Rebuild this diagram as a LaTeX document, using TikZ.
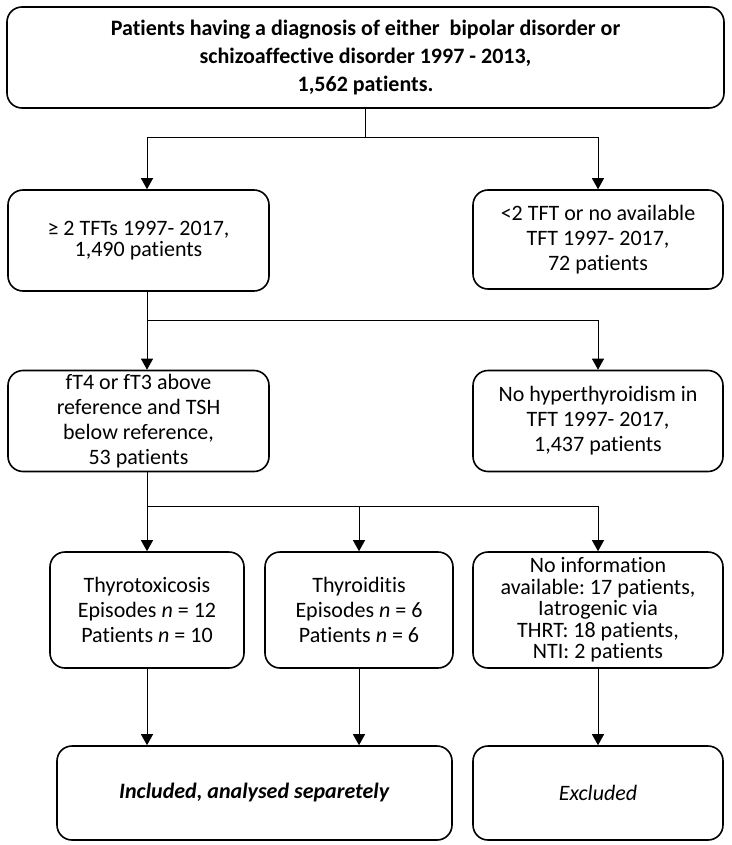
\documentclass[tikz,border=0pt]{standalone}
\usepackage{fontspec}
\setmainfont{Carlito}[Ligatures=NoCommon]
\frenchspacing
\usetikzlibrary{arrows.meta,positioning}

\begin{document}
\begin{tikzpicture}[x=1pt,y=-1pt,font=\fontsize{22}{25}\selectfont,
          caja/.style={draw,rounded corners=15pt,line width=1.6pt,align=center,inner sep=0pt,minimum height=101pt},
          linea/.style={line width=1pt},
          flecha/.style={linea,-{Triangle[width=12pt,length=11pt]}}]
        \useasboundingbox (0,0) rectangle (731,845);
        \node[caja,minimum width=717pt,font=\bfseries\fontsize{22}{28}\selectfont] (pob) at (365.5,57.5)
          {Patients having a diagnosis of either\ \ bipolar disorder or\\schizoaffective disorder 1997 - 2013,\\1,562 patients.};
        \node[caja,minimum width=261pt,font=\fontsize{22}{21}\selectfont] (tft) at (138.5,240.5) {≥ 2 TFTs 1997- 2017,\\1,490 patients};
        \node[caja,minimum width=250pt,minimum height=99pt] (sin) at (598,239.5) {<2 TFT or no available\\TFT 1997- 2017,\\72 patients};
        \node[caja,minimum width=261pt] (hip) at (138.5,421) {fT4 or fT3 above\\reference and TSH\\below reference,\\53 patients};
        \node[caja,minimum width=250pt] (nohip) at (598,421) {No hyperthyroidism in\\TFT 1997- 2017,\\1,437 patients};
        \node[caja,minimum width=194pt,minimum height=116pt] (toxi) at (147,610) {Thyrotoxicosis\\Episodes \textit{n} = 12\\Patients \textit{n} = 10};
        \node[caja,minimum width=188pt,minimum height=116pt] (tiro) at (359,610) {Thyroiditis\\Episodes \textit{n} = 6\\Patients \textit{n} = 6};
        \node[caja,minimum width=250pt,minimum height=116pt,font=\fontsize{22}{21.5}\selectfont] (noinfo) at (598,610)
          {No information\\available: 17 patients,\\Iatrogenic via\\THRT: 18 patients,\\NTI: 2 patients};
        \node[caja,minimum width=395pt,minimum height=94pt] (incl) at (254.5,793) {\textbf{\textit{Included, analysed separetely}}};
        \node[caja,minimum width=250pt,minimum height=94pt] (excl) at (598,793) {\textit{Excluded}};
        % left column of the connectors
        \coordinate (izq) at (147,0);
        \draw[linea] (pob.south) -- ++(0,29) coordinate (r1);
        \draw[flecha] (r1) -| (izq|-tft.north);
        \draw[flecha] (r1) -| (sin.north);
        \draw[linea] (izq|-tft.south) -- ++(0,29) coordinate (r2);
        \draw[flecha] (r2) -- (izq|-hip.north);
        \draw[flecha] (r2) -| (nohip.north);
        \draw[linea] (izq|-hip.south) -- ++(0,34) coordinate (r3);
        \draw[flecha] (r3) -- (toxi.north);
        \draw[flecha] (r3) -| (tiro.north);
        \draw[flecha] (r3) -| (noinfo.north);
        \draw[flecha] (toxi.south) -- (toxi.south|-incl.north);
        \draw[flecha] (tiro.south) -- (tiro.south|-incl.north);
        \draw[flecha] (noinfo.south) -- (excl.north);
\end{tikzpicture}
\end{document}
